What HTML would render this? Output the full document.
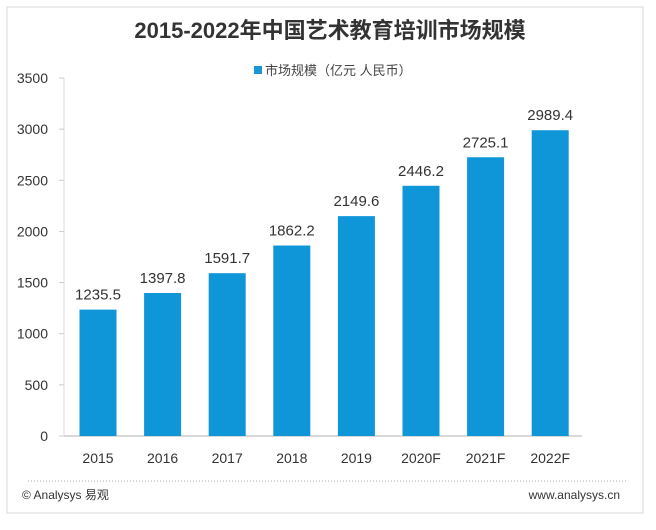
<!DOCTYPE html>
<html><head><meta charset="utf-8"><style>
body{margin:0;background:#fff;}
svg text{font-family:"Liberation Sans","Noto Sans CJK SC",sans-serif;}
</style></head><body>
<svg width="656" height="525" viewBox="0 0 656 525">
<rect x="7" y="7" width="636" height="506" fill="#fff" stroke="#d8d8d8"/>
<text x="330" y="38" text-anchor="middle" font-size="22" font-weight="bold" fill="#333">2015-2022年中国艺术教育培训市场规模</text>
<rect x="254" y="66" width="8" height="8" fill="#1a96d4"/>
<text x="265" y="75" font-size="13" fill="#444">市场规模（亿元 人民币）</text>
<g id="axes"></g><g id="bars"></g>
<line x1="28" y1="481" x2="626" y2="481" stroke="#aaa" stroke-dasharray="1,2"/>
<text x="22" y="499" font-size="12" fill="#333">© Analysys 易观</text>
<text x="620" y="499" text-anchor="end" font-size="12" fill="#333">www.analysys.cn</text>
</svg>
<script>
const categories=["2015","2016","2017","2018","2019","2020F","2021F","2022F"];
const values=[1235.5,1397.8,1591.7,1862.2,2149.6,2446.2,2725.1,2989.4];
const yTicks=[0,500,1000,1500,2000,2500,3000,3500];
const NS="http://www.w3.org/2000/svg";
const y0=436,yTop=78,yMax=3500;
const y=v=>y0-(v/yMax)*(y0-yTop);
const x=i=>98+i*64.6;
function mk(tag,attrs,parent,txt){const e=document.createElementNS(NS,tag);for(const k in attrs)e.setAttribute(k,attrs[k]);if(txt!==undefined)e.textContent=txt;parent.appendChild(e);return e;}
const ax=document.getElementById('axes'),bg=document.getElementById('bars');
const ya=mk('line',{x1:64,y1:yTop,x2:64,y2:y0,stroke:'#ddd'},ax);


const xa=mk('line',{x1:64,y1:y0,x2:582,y2:y0,stroke:'#ccc','stroke-width':1.5},ax);


yTicks.forEach(t=>{
 const tk=mk('line',{x1:59,y1:y(t),x2:64,y2:y(t),stroke:'#ccc'},ax);
 
 
 const l=mk('text',{x:48,y:y(t)+5,'text-anchor':'end','font-size':14,fill:'#333'},ax,String(t));
 
 
});
categories.forEach((c,i)=>{
 const b=mk('rect',{x:x(i)-18.5,y:y(values[i]),width:37,height:y0-y(values[i]),fill:'#0e96d8'},bg);
 
 
 const v=mk('text',{x:x(i),y:y(values[i])-10,'text-anchor':'middle','font-size':15,fill:'#333'},bg,values[i].toFixed(1));
 
 
 const l=mk('text',{x:x(i),y:463,'text-anchor':'middle','font-size':14,fill:'#333'},bg,c);
 
 
});
</script>
</body></html>
